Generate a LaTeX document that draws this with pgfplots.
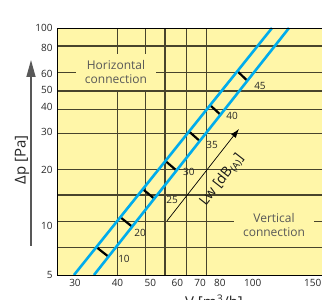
\documentclass[border=0pt]{standalone}
\usepackage{fontspec}
\setmainfont{Open Sans}
\usepackage{pgfplots}
\pgfplotsset{compat=1.18}
\usetikzlibrary{arrows.meta}
\definecolor{bg}{RGB}{255,246,168}
\definecolor{grd}{RGB}{72,68,44}
\definecolor{lineblue}{RGB}{0,172,236}
\definecolor{txtgray}{RGB}{88,88,88}
\begin{document}
\begin{tikzpicture}
\begin{axis}[
  at={(0pt,0pt)}, anchor=south west,
  scale only axis, width=265pt, height=247pt,
  xmode=log, ymode=log,
  xmin=26.56, xmax=159.8, ymin=5, ymax=100,
  axis background/.style={fill=bg},
  axis line style={draw=none},
  clip mode=individual,
  xtick={30,40,50,60,70,80,100,150},
  xticklabels={30,40,50,60,70,80,100,150},
  ytick={5,9.08,17.9,28.4,38.4,47.2,57.3,78.5,100},
  yticklabels={5,10,20,30,40,50,60,80,100},
  xminorticks=false, yminorticks=false,
  major tick length=0pt,
  extra x ticks={39.9,48.5,55.2,64.0,72.9}, extra x tick labels={},
  extra y ticks={6.95,9.52,13.2,17.9,27.7,37.2,46.6,58.0,80.4}, extra y tick labels={},
  extra x tick style={grid=major},
  extra y tick style={grid=major},
  major grid style={grd, line width=1.1pt},
  tick label style={font=\fontsize{10}{12}\selectfont, text=black!85},
  xticklabel style={yshift=-1pt},
  yticklabel style={xshift=-1pt},
  /pgf/number format/assume math mode=true,
]
% Lw arrow
\addplot[black, line width=0.7pt, -{Latex[length=9pt,width=6pt]}] coordinates {(55.94,9.64) (91.1,29.4)};
% dashes between the two lines
\addplot[black, line width=2.2pt] coordinates {(34.64,7.02) (37.61,6.25)};
\addplot[black, line width=2.2pt] coordinates {(40.76,10.09) (44.16,8.99)};
\addplot[black, line width=2.2pt] coordinates {(47.48,14.17) (51.29,12.63)};
\addplot[black, line width=2.2pt] coordinates {(55.34,19.93) (59.62,17.77)};
\addplot[black, line width=2.2pt] coordinates {(64.93,28.51) (69.81,25.41)};
\addplot[black, line width=2.2pt] coordinates {(74.91,39.21) (80.35,34.95)};
\addplot[black, line width=2.2pt] coordinates {(90.09,59.21) (96.36,52.78)};
% blue lines
\addplot[lineblue, line width=2.6pt] coordinates {(29.80,5) (113.9,100)};
\addplot[lineblue, line width=2.6pt] coordinates {(34.12,5) (127.8,100)};
% dash labels
\begin{scope}[every node/.style={font=\fontsize{10}{12}\selectfont, text=black!85}]
\node at (axis cs:41.8,6.08) {10};
\node at (axis cs:46.6,8.34) {20};
\node at (axis cs:57.9,12.44) {25};
\node at (axis cs:64.9,17.46) {30};
\node at (axis cs:75.9,24.22) {35};
\node at (axis cs:86.9,34.42) {40};
\node at (axis cs:105.0,49.5) {45};
\end{scope}
\node[rotate=52, font=\fontsize{14}{16}\selectfont, text=black!90] at (axis cs:81.2,15.85) {Lw [dB\textsubscript{(A)}]};
% connection labels
\node[fill=bg, inner xsep=9pt, inner ysep=7pt, align=center, text=txtgray, font=\fontsize{12}{13.5}\selectfont] at (axis cs:39.6,58.67) {Horizontal\\connection};
\node[fill=bg, inner xsep=9pt, inner ysep=7pt, align=center, text=txtgray, font=\fontsize{12}{13.5}\selectfont] at (axis cs:115.5,9.19) {Vertical\\connection};
% frame
\draw[black, line width=0.9pt] (rel axis cs:0,0) -- (rel axis cs:1,0);
\draw[black, line width=0.9pt] (rel axis cs:0,1) -- (rel axis cs:1,1);
\draw[black, line width=0.9pt] (rel axis cs:0,0) -- (rel axis cs:0,1);
\end{axis}
% y axis label with arrow
\draw[txtgray, line width=1.5pt, -{Triangle[length=17pt,width=9pt]}] (-26pt,29pt) -- (-26pt,215pt);
\node[rotate=90, font=\fontsize{15}{18}\selectfont, text=black!85] at (-35pt,115pt) {Δp [Pa]};
\node[anchor=north, font=\fontsize{15}{18}\selectfont, text=black!85] at (157pt,-16pt) {V [m\textsuperscript{3}/h]};
\pgfresetboundingbox
\path[use as bounding box] (-57pt,-25pt) rectangle (265pt,275pt);
\end{tikzpicture}
\end{document}
